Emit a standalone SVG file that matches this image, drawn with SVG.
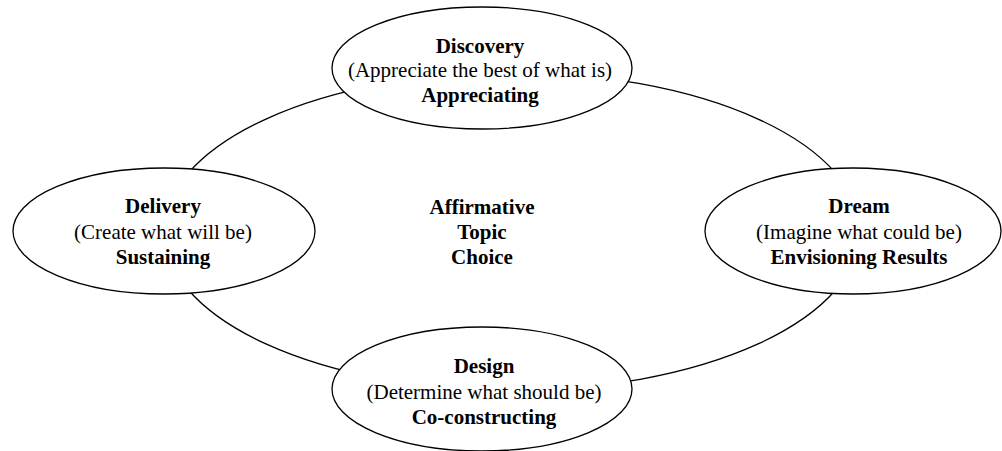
<svg xmlns="http://www.w3.org/2000/svg" width="1002" height="451" viewBox="0 0 1002 451">
<style>
.e{fill:#fff;stroke:#000;stroke-width:1.3}
.big{fill:none;stroke:#000;stroke-width:1.3}
text{font-family:"Liberation Serif","Times New Roman",serif;font-size:21px;fill:#000;text-anchor:middle}
.b{font-weight:bold}
</style>
<rect width="1002" height="451" fill="#fff"/>
<g id="connectors">
<ellipse class="big" cx="512" cy="231.5" rx="348" ry="159"/>
</g>
<g id="center">
<text class="b" x="482" y="214">Affirmative</text>
<text class="b" x="482" y="239">Topic</text>
<text class="b" x="482" y="264">Choice</text>
</g>
<g id="discovery">
<ellipse class="e" cx="482" cy="68" rx="150" ry="61"/>
<text class="b" x="480" y="53">Discovery</text>
<text x="480" y="77">(Appreciate the best of what is)</text>
<text class="b" x="480" y="102">Appreciating</text>
</g>
<g id="delivery">
<ellipse class="e" cx="164" cy="231" rx="151" ry="63"/>
<text class="b" x="163" y="213">Delivery</text>
<text x="163" y="239">(Create what will be)</text>
<text class="b" x="163" y="264">Sustaining</text>
</g>
<g id="dream">
<ellipse class="e" cx="853" cy="231" rx="148" ry="63"/>
<text class="b" x="859" y="213">Dream</text>
<text x="859" y="239">(Imagine what could be)</text>
<text class="b" x="859" y="264">Envisioning Results</text>
</g>
<g id="design">
<ellipse class="e" cx="482" cy="389" rx="150" ry="62"/>
<text class="b" x="484" y="373">Design</text>
<text x="484" y="399">(Determine what should be)</text>
<text class="b" x="484" y="424">Co-constructing</text>
</g>
</svg>
